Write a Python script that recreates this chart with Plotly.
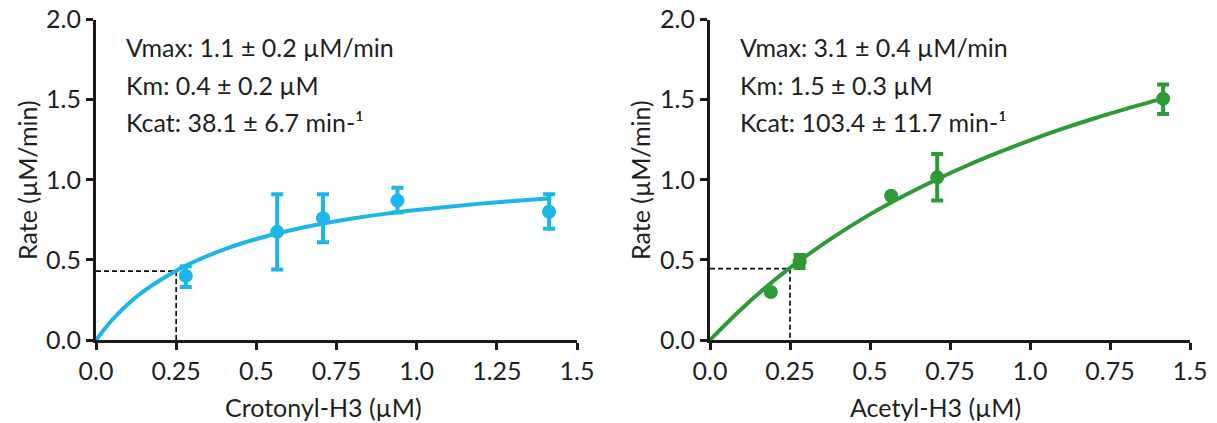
import plotly.graph_objects as go

# ---------------- data ----------------
# Crotonyl-H3 panel
cro_x = [0.28, 0.565, 0.708, 0.94, 1.413]
cro_y = [0.40, 0.675, 0.76, 0.87, 0.80]
cro_err_plus = [0.06, 0.235, 0.15, 0.08, 0.11]
cro_err_minus = [0.07, 0.235, 0.15, 0.075, 0.105]
cro_fit_x = [0, 0.05, 0.1, 0.15, 0.2, 0.25, 0.3, 0.4, 0.5, 0.6, 0.7, 0.8, 0.9, 1.0, 1.1, 1.2, 1.3, 1.42]
cro_fit_y = [0, 0.125, 0.225, 0.306, 0.373, 0.432, 0.483, 0.566, 0.630, 0.682, 0.724, 0.758, 0.787, 0.811, 0.832, 0.851, 0.867, 0.884]
cro_km_x = 0.25
cro_km_y = 0.43
cro_text = ["Vmax: 1.1 ± 0.2 µM/min", "Km: 0.4 ± 0.2 µM", "Kcat: 38.1 ± 6.7 min-¹"]

# Acetyl-H3 panel
ace_x = [0.19, 0.28, 0.566, 0.71, 1.416]
ace_y = [0.30, 0.49, 0.90, 1.015, 1.505]
ace_err_plus = [0, 0.04, 0, 0.145, 0.09]
ace_err_minus = [0, 0.04, 0, 0.145, 0.095]
ace_fit_x = [0, 0.1, 0.2, 0.25, 0.3, 0.4, 0.5, 0.6, 0.7, 0.8, 0.9, 1.0, 1.1, 1.2, 1.3, 1.42]
ace_fit_y = [0, 0.197, 0.371, 0.45, 0.524, 0.661, 0.784, 0.894, 0.994, 1.086, 1.169, 1.246, 1.317, 1.382, 1.442, 1.509]
ace_km_x = 0.25
ace_km_y = 0.445
ace_text = ["Vmax: 3.1 ± 0.4 µM/min", "Km: 1.5 ± 0.3 µM", "Kcat: 103.4 ± 11.7 min-¹"]

# axes ticks
y_tickvals = [0, 0.5, 1.0, 1.5, 2.0]
y_ticktext = ["0.0", "0.5", "1.0", "1.5", "2.0"]
x_tickvals = [0, 0.25, 0.5, 0.75, 1.0, 1.25, 1.5]
cro_x_ticktext = ["0.0", "0.25", "0.5", "0.75", "1.0", "1.25", "1.5"]
ace_x_ticktext = ["0.0", "0.25", "0.5", "0.75", "1.0", "0.75", "1.5"]

x_titles = ["Crotonyl-H3 (µM)", "Acetyl-H3 (µM)"]
y_title = "Rate (µM/min)"

# ---------------- style ----------------
W, H = 1217, 423
BLUE = "#1DB5EA"
GREEN = "#2E9A36"
AXC = "#1a1a1a"
TXT = "#1f1f1f"
FONT = "Lato"
FS = 25

fig = go.Figure()

panels = [
    dict(xa="x", ya="y", fx=cro_fit_x, fy=cro_fit_y, px=cro_x, py=cro_y,
         ep=cro_err_plus, em=cro_err_minus, kx=cro_km_x, ky=cro_km_y, c=BLUE),
    dict(xa="x2", ya="y2", fx=ace_fit_x, fy=ace_fit_y, px=ace_x, py=ace_y,
         ep=ace_err_plus, em=ace_err_minus, kx=ace_km_x, ky=ace_km_y, c=GREEN),
]

for p in panels:
    # dashed guide lines
    fig.add_trace(go.Scatter(x=[0, p["kx"], p["kx"]], y=[p["ky"], p["ky"], 0],
                             mode="lines", xaxis=p["xa"], yaxis=p["ya"],
                             line=dict(color="#111111", width=1.7, dash="5px,3px"),
                             showlegend=False, hoverinfo="skip"))
    # fit curve
    fig.add_trace(go.Scatter(x=p["fx"], y=p["fy"], mode="lines", xaxis=p["xa"], yaxis=p["ya"],
                             line=dict(color=p["c"], width=4, shape="spline"),
                             showlegend=False))
    # data points
    fig.add_trace(go.Scatter(x=p["px"], y=p["py"], mode="markers", xaxis=p["xa"], yaxis=p["ya"],
                             marker=dict(color=p["c"], size=14),
                             error_y=dict(type="data", symmetric=False, array=p["ep"],
                                          arrayminus=p["em"], color=p["c"], thickness=4, width=6),
                             showlegend=False, cliponaxis=False))

ydom = [(H - 340) / H, (H - 19.5) / H]
xdom1 = [96 / W, 577 / W]
xdom2 = [710 / W, 1190 / W]

axis_common = dict(showline=True, linecolor=AXC, linewidth=3, ticks="outside", ticklen=7,
                   tickwidth=3, tickcolor=AXC, showgrid=False, zeroline=False, automargin=False,
                   tickfont=dict(family=FONT, size=FS, color=TXT), fixedrange=True)

fig.update_layout(
    template="none",
    width=W, height=H, autosize=False,
    margin=dict(l=0, r=0, t=0, b=0, pad=0),
    paper_bgcolor="white", plot_bgcolor="white",
    xaxis=dict(domain=xdom1, range=[0, 1.5], tickvals=x_tickvals, ticktext=cro_x_ticktext,
               anchor="y", **axis_common),
    yaxis=dict(domain=ydom, range=[0, 2.0], tickvals=y_tickvals, ticktext=y_ticktext,
               anchor="x", **axis_common),
    xaxis2=dict(domain=xdom2, range=[0, 1.5], tickvals=x_tickvals, ticktext=ace_x_ticktext,
                anchor="y2", **axis_common),
    yaxis2=dict(domain=ydom, range=[0, 2.0], tickvals=y_tickvals, ticktext=y_ticktext,
                anchor="x2", **axis_common),
)

annotations = []
# parameter text
for texts, x0 in [(cro_text, 124), (ace_text, 738)]:
    for i, t in enumerate(texts):
        annotations.append(dict(text=t, xref="paper", yref="paper", x=x0 / W,
                                y=(H - (47 + i * 37.5)) / H, xanchor="left", yanchor="middle",
                                showarrow=False, font=dict(family=FONT, size=FS, color=TXT)))
# axis titles
for t, xc in zip(x_titles, [323, 935]):
    annotations.append(dict(text=t, xref="paper", yref="paper", x=xc / W, y=(H - 407) / H,
                            xanchor="center", yanchor="middle", showarrow=False,
                            font=dict(family=FONT, size=FS, color=TXT)))
for xc in [27, 640]:
    annotations.append(dict(text=y_title, xref="paper", yref="paper", x=xc / W, y=(H - 180) / H,
                            xanchor="center", yanchor="middle", textangle=-90, showarrow=False,
                            font=dict(family=FONT, size=FS, color=TXT)))
fig.update_layout(annotations=annotations)

fig.write_html("out.html")
